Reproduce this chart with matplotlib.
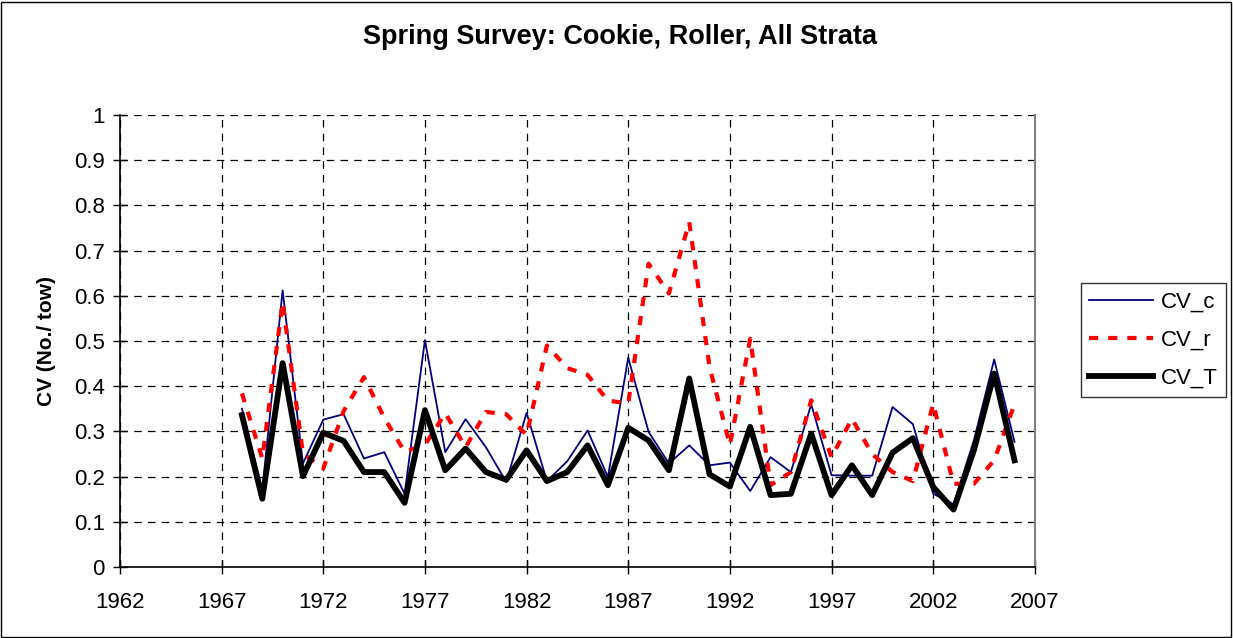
import numpy as np
import matplotlib.pyplot as plt
from matplotlib.patches import Rectangle

plt.rcParams['font.family'] = ['Liberation Sans', 'DejaVu Sans']

years = list(range(1968, 2007))
cv_c = [0.350, 0.170, 0.612, 0.229, 0.326, 0.338, 0.240, 0.254, 0.162, 0.502,
        0.254, 0.327, 0.265, 0.188, 0.341, 0.190, 0.234, 0.302, 0.199, 0.463,
        0.299, 0.229, 0.269, 0.225, 0.231, 0.168, 0.243, 0.210, 0.360, 0.203,
        0.202, 0.202, 0.354, 0.316, 0.162, 0.139, 0.280, 0.459, 0.277]
cv_r = [0.384, 0.240, 0.586, 0.251, 0.218, 0.345, 0.420, 0.330, 0.255, 0.270,
        0.340, 0.265, 0.343, 0.338, 0.292, 0.490, 0.440, 0.425, 0.368, 0.362,
        0.671, 0.605, 0.763, 0.442, 0.270, 0.505, 0.181, 0.210, 0.369, 0.243,
        0.328, 0.250, 0.210, 0.190, 0.361, 0.184, 0.184, 0.236, 0.360]
cv_t = [0.336, 0.151, 0.451, 0.201, 0.297, 0.279, 0.210, 0.210, 0.142, 0.347,
        0.214, 0.262, 0.210, 0.193, 0.258, 0.190, 0.210, 0.269, 0.181, 0.308,
        0.280, 0.214, 0.417, 0.205, 0.178, 0.310, 0.159, 0.162, 0.295, 0.159,
        0.225, 0.159, 0.253, 0.285, 0.177, 0.127, 0.258, 0.428, 0.236]

fig = plt.figure(figsize=(12.33, 6.38), dpi=100)
ax = fig.add_axes([0.0973, 0.1113, 0.742, 0.7085])

ax.plot(years, cv_c, color='#000080', lw=1.3, label='CV_c')
ax.plot(years, cv_r, color='#ff0000', lw=3.0, dashes=(2.2, 2.4), label='CV_r')
ax.plot(years, cv_t, color='black', lw=4.2, label='CV_T')

ax.set_xlim(1962, 2007)
ax.set_ylim(0, 1)
ax.set_xticks(range(1962, 2008, 5))
ax.set_yticks(np.arange(0, 1.01, 0.1))
ax.set_yticklabels(['0', '0.1', '0.2', '0.3', '0.4', '0.5', '0.6', '0.7', '0.8', '0.9', '1'])
ax.tick_params(labelsize=16, direction='inout', length=10, width=1)
ax.tick_params(axis='x', pad=13)
ax.tick_params(axis='y', pad=6)
ax.grid(True, color='black', ls=(0, (6, 5)), lw=0.9)
ax.set_axisbelow(True)

for s in ['left', 'bottom']:
    ax.spines[s].set_color('black')
    ax.spines[s].set_linewidth(1.2)
ax.spines['top'].set_visible(False)
ax.spines['right'].set_color('#808080')
ax.spines['right'].set_linewidth(1.5)

ax.set_ylabel('CV (No./ tow)', fontsize=15, fontweight='bold', labelpad=13)
fig.suptitle('Spring Survey: Cookie, Roller, All Strata', fontsize=19.5,
             fontweight='bold', x=0.503, y=0.962)

leg = ax.legend(loc='upper left', bbox_to_anchor=(1.05, 0.628), borderaxespad=0,
                fontsize=16, frameon=True, fancybox=False, edgecolor='black',
                handlelength=2.85, borderpad=0.4, labelspacing=0.75,
                handletextpad=0.35)
leg.get_frame().set_linewidth(1.0)

fig.patches.append(Rectangle((0.001, 0.002), 0.997, 0.995, transform=fig.transFigure,
                             fill=False, edgecolor='black', lw=1.0))

fig.savefig('out.png', dpi=100)
